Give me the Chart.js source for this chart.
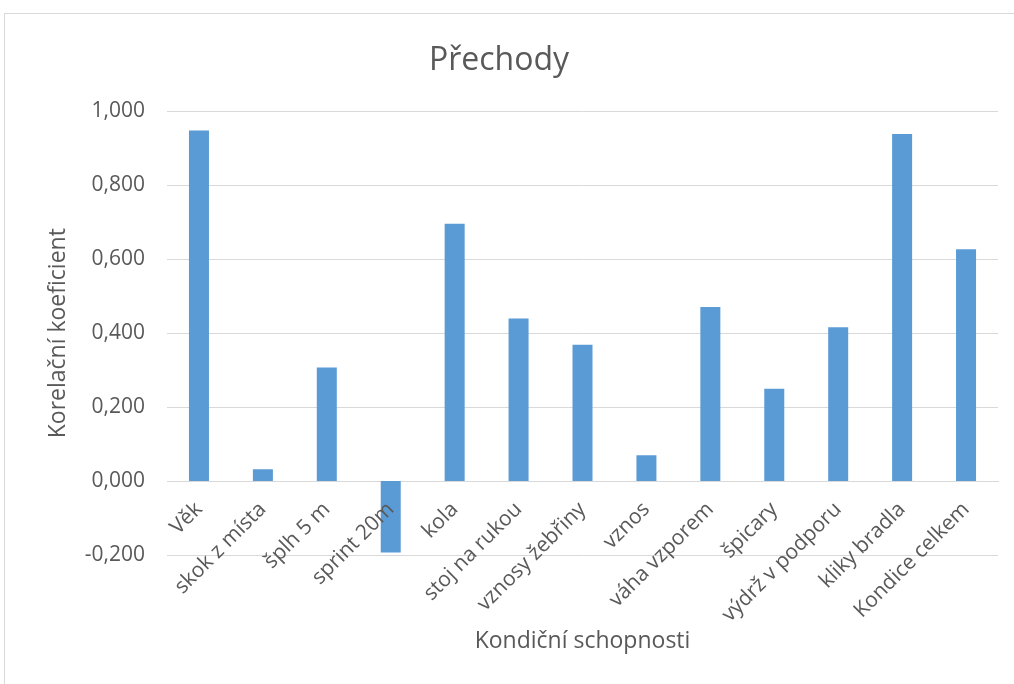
<!DOCTYPE html>
<html>
<head>
<meta charset="utf-8">
<title>Přechody</title>
<script src="https://cdn.jsdelivr.net/npm/chart.js@4/dist/chart.umd.min.js"></script>
<style>
  body { margin: 0; background: #fff; overflow: hidden; }
  #frame {
    position: absolute; left: 4px; top: 13px;
    width: 1100px; height: 700px;
    border: 1px solid #d9d9d9;
  }
  #chart { position: absolute; left: 0; top: 0; }
</style>
</head>
<body>
<div id="frame"></div>
<canvas id="chart" width="1014" height="684"></canvas>
<script>
// data
const categories = ['Věk', 'skok z místa', 'šplh 5 m', 'sprint 20m', 'kola', 'stoj na rukou',
  'vznosy žebřiny', 'vznos', 'váha vzporem', 'špicary', 'výdrž v podporu', 'kliky bradla', 'Kondice celkem'];
const koeficient = [0.948, 0.032, 0.307, -0.193, 0.696, 0.440, 0.369, 0.070, 0.471, 0.250, 0.416, 0.939, 0.627];
const yMin = -0.2;
const yMax = 1.0;
const yStep = 0.2;

const textColor = '#595959';
const gridColor = '#d9d9d9';
const fontFamily = '"Open Sans", sans-serif';

// 3 decimals, decimal comma, no "-0,000"
function fmt(v) {
  if (Math.abs(v) < 1e-9) v = 0;
  return v.toFixed(3).replace('.', ',');
}

var ctx = document.getElementById('chart').getContext('2d');

var chart = new Chart(ctx, {
  type: 'bar',
  data: {
    labels: categories,
    datasets: [
      {
        label: 'Korelační koeficient',
        data: koeficient,
        backgroundColor: '#5b9bd5',
        barPercentage: 0.313,
        categoryPercentage: 1,
      },
    ],
  },
  options: {
    responsive: false,
    animation: false,
    layout: {
      padding: { left: 0, right: 16, top: 0, bottom: 129 },
    },
    plugins: {
      legend: { display: false },
      tooltip: { enabled: false },
      title: {
        display: true,
        text: 'Přechody',
        color: textColor,
        font: { family: fontFamily, size: 32, weight: 'normal' },
        padding: { top: 42, bottom: 31 },
      },
    },
    scales: {
      x: {
        position: { y: 0 },
        grid: { display: false, drawTicks: false },
        border: { display: true, color: gridColor, width: 1 },
        ticks: {
          z: 1, // labels over the negative bar, like the original
          color: textColor,
          font: { family: fontFamily, size: 21 },
          autoSkip: false,
          maxRotation: 45,
          minRotation: 45,
          padding: 16,
        },
        title: {
          display: true,
          text: 'Kondiční schopnosti',
          color: textColor,
          font: { family: fontFamily, size: 23 },
          padding: { top: -16, bottom: 4 },
        },
      },
      y: {
        min: yMin,
        max: yMax,
        grid: { color: gridColor, drawTicks: false },
        border: { display: false },
        ticks: {
          stepSize: yStep,
          color: textColor,
          font: { family: fontFamily, size: 21 },
          padding: 22,
          callback: (v) => fmt(v),
        },
        title: {
          display: true,
          text: 'Korelační koeficient',
          color: textColor,
          font: { family: fontFamily, size: 23 },
          padding: { top: 45, bottom: 0 },
        },
        // plot area starts at x=167 like the original
        afterFit: (scale) => {
          scale.width = 167;
        },
      },
    },
  },
});
</script>
</body>
</html>
